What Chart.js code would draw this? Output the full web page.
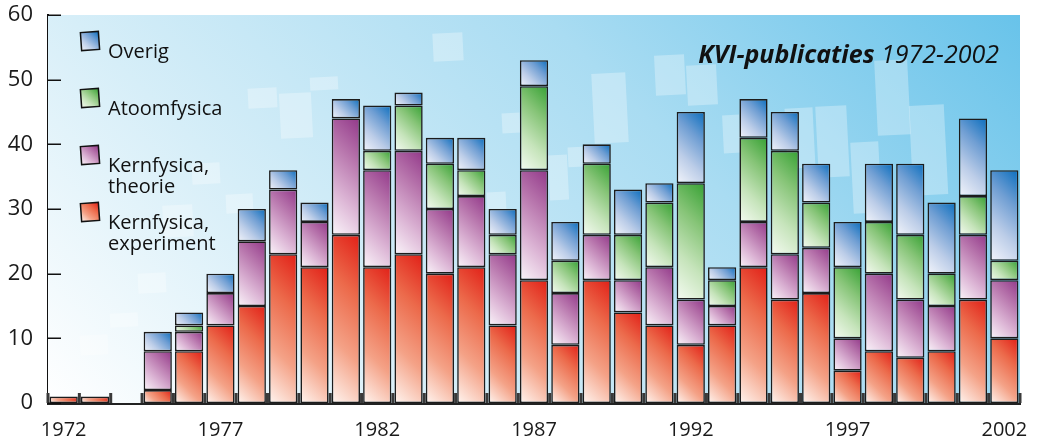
<!DOCTYPE html>
<html>
<head>
<meta charset="utf-8">
<script src="https://cdn.jsdelivr.net/npm/chart.js@4.4.1/dist/chart.umd.min.js"></script>
<style>
  html, body { margin: 0; padding: 0; background: #fff; }
  #wrap { width: 1038px; height: 441px; }
</style>
</head>
<body>
<div id="wrap"><canvas id="chart"></canvas></div>
<script>
// KVI-publicaties 1972-2002, gestapeld per jaar

const years = ['1972','1973','1974','1975','1976','1977','1978','1979','1980','1981',
  '1982','1983','1984','1985','1986','1987','1988','1989','1990','1991',
  '1992','1993','1994','1995','1996','1997','1998','1999','2000','2001','2002'];

const kernExp  = [1,1,0,2,8,12,15,23,21,26,21,23,20,21,12,19,9,19,14,12,9,12,21,16,17,5,8,7,8,16,10];
const kernTheo = [0,0,0,6,3,5,10,10,7,18,15,16,10,11,11,17,8,7,5,9,7,3,7,7,7,5,12,9,7,10,9];
const atoom    = [0,0,0,0,1,0,0,0,0,0,3,7,7,4,3,13,5,11,7,10,18,4,13,16,7,11,8,10,5,6,3];
const overig   = [0,0,0,3,2,3,5,3,3,3,7,2,4,5,4,4,6,3,7,3,11,2,6,6,6,7,9,11,11,12,14];

const yTicks = [0, 10, 20, 30, 40, 50, 60];
const labelEvery = 5;

const FONT = "'Open Sans', 'Noto Sans', sans-serif";

// kleurverloop per segment: licht linksonder -> verzadigd rechtsboven
const stopsExp   = ['#fff5f0', '#f4a287', '#ec6a4b', '#e11f17'];
const stopsTheo  = ['#fbf5fa', '#dcb5d5', '#b876ad', '#923889'];
const stopsAtoom = ['#f5fbf2', '#c6e4bb', '#86c477', '#36a133'];
const stopsOverig= ['#f3f5fb', '#bccde8', '#6f9ed3', '#0a6ebe'];

function fillGradient(g, stops) {
  stops.forEach((c, j) => g.addColorStop(j / (stops.length - 1), c));
  return g;
}

function segmentFill(stops) {
  return (ctx) => {
    const chart = ctx.chart;
    if (ctx.type !== 'data' || !chart.chartArea) return stops[stops.length - 1];
    const xs = chart.scales.x, ys = chart.scales.y;
    const i = ctx.dataIndex, d = ctx.datasetIndex;
    let base = 0;
    for (let k = 0; k < d; k++) base += chart.data.datasets[k].data[i] || 0;
    const top = base + (chart.data.datasets[d].data[i] || 0);
    const w = xs.width / chart.data.labels.length * 0.9;
    const left = xs.getPixelForValue(i) - w / 2;
    const bottom = ys.getPixelForValue(base);
    const h = bottom - ys.getPixelForValue(top);
    const L = (w + h) / 2;
    return fillGradient(chart.ctx.createLinearGradient(left, bottom, left + L, bottom - L), stops);
  };
}

// lichte "vensters" in de achtergrond
const decoRects = [
  [433,33,30,28],[310,77,28,13],[248,88,29,20],[280,93,32,45],[192,163,28,21],
  [226,194,27,19],[163,205,30,32],[138,273,28,20],[110,313,28,14],[80,335,28,20],
  [502,113,18,20],[549,155,19,45],[568,147,15,20],[593,73,34,70],[487,192,19,18],
  [655,55,30,40],[687,65,30,40],[723,115,17,38],[786,108,28,60],[817,106,31,71],
  [852,142,28,71],[876,60,33,75],[911,105,35,90]
];

const background = {
  id: 'background',
  beforeDatasetsDraw(chart) {
    const { ctx, chartArea: a } = chart;
    ctx.save();
    const L = (a.width + a.height) / 2;
    const g = ctx.createLinearGradient(a.left, a.bottom, a.left + L, a.bottom - L);
    g.addColorStop(0, '#ffffff');
    g.addColorStop(0.3, '#d6eef8');
    g.addColorStop(0.65, '#a9dcf2');
    g.addColorStop(1, '#68c3ea');
    ctx.fillStyle = g;
    ctx.fillRect(a.left, a.top, a.width, a.height);
    ctx.fillStyle = 'rgba(255,255,255,0.3)';
    decoRects.forEach(([x, y, w, h]) => {
      ctx.save();
      ctx.translate(x + w / 2, y + h / 2);
      ctx.rotate(-0.05);
      ctx.fillRect(-w / 2, -h / 2, w, h);
      ctx.restore();
    });
    // streepjes tussen de staven onderaan
    const xs = chart.scales.x;
    const step = xs.width / chart.data.labels.length;
    ctx.fillStyle = '#3a3a3a';
    for (let i = 0; i <= chart.data.labels.length; i++) {
      const x = xs.getPixelForValue(i) - step / 2;
      ctx.fillRect(x - 1.5, a.bottom - 10, 3, 10);
    }
    ctx.restore();
  },
  afterDatasetsDraw(chart) {
    const { ctx, chartArea: a } = chart;
    const ys = chart.scales.y;
    ctx.save();
    ctx.strokeStyle = '#111';
    ctx.lineWidth = 1.5;
    ys.ticks.forEach(t => {
      const y = Math.round(ys.getPixelForValue(t.value)) + 0.25;
      ctx.beginPath();
      ctx.moveTo(a.left, y);
      ctx.lineTo(a.left + 13, y);
      ctx.stroke();
    });
    ctx.restore();
  }
};

const legendBlock = {
  id: 'legendBlock',
  afterDraw(chart) {
    const { ctx, chartArea: a } = chart;
    const sets = chart.data.datasets.slice().reverse();
    ctx.save();
    ctx.font = '20px ' + FONT;
    ctx.fillStyle = '#111';
    ctx.textAlign = 'left';
    ctx.textBaseline = 'alphabetic';
    sets.forEach((ds, n) => {
      const bx = a.left + 33, by = a.top + 17 + n * 57;
      ctx.save();
      ctx.translate(bx + 9, by + 9);
      ctx.rotate(-0.07);
      const g = ctx.createLinearGradient(-9, 9, 9, -9);
      fillGradient(g, ds.stops);
      ctx.fillStyle = g;
      ctx.fillRect(-9, -9, 18, 18);
      ctx.strokeStyle = '#111';
      ctx.lineWidth = 1.5;
      ctx.strokeRect(-9, -9, 18, 18);
      ctx.restore();
      const lines = ds.label.split(', ');
      lines.forEach((s, j) => {
        const txt = j < lines.length - 1 ? s + ',' : s;
        ctx.fillText(txt, bx + 27, by + 26 + j * 21);
      });
    });
    ctx.restore();
  }
};

const titleBlock = {
  id: 'titleBlock',
  afterDraw(chart) {
    const { ctx } = chart;
    const right = chart.chartArea.right - 21, base = 63;
    ctx.save();
    ctx.fillStyle = '#111';
    ctx.textBaseline = 'alphabetic';
    ctx.textAlign = 'left';
    const boldFont = 'italic bold 25px ' + FONT;
    const itFont = 'italic 25px ' + FONT;
    ctx.font = itFont;
    const wIt = ctx.measureText(' 1972-2002').width;
    ctx.font = boldFont;
    const wBold = ctx.measureText('KVI-publicaties').width;
    const x0 = right - wIt - wBold;
    ctx.fillText('KVI-publicaties', x0, base);
    ctx.font = itFont;
    ctx.fillText(' 1972-2002', x0 + wBold, base);
    ctx.restore();
  }
};

const common = { borderColor: '#1c1c1c', borderWidth: 1.6, borderSkipped: false };

function noPad(s) {
  s.paddingTop = 0; s.paddingBottom = 0; s.paddingLeft = 0; s.paddingRight = 0;
}

new Chart(document.getElementById('chart'), {
  type: 'bar',
  data: {
    labels: years,
    datasets: [
      { label: 'Kernfysica, experiment', data: kernExp, stops: stopsExp, backgroundColor: segmentFill(stopsExp), ...common },
      { label: 'Kernfysica, theorie', data: kernTheo, stops: stopsTheo, backgroundColor: segmentFill(stopsTheo), ...common },
      { label: 'Atoomfysica', data: atoom, stops: stopsAtoom, backgroundColor: segmentFill(stopsAtoom), ...common },
      { label: 'Overig', data: overig, stops: stopsOverig, backgroundColor: segmentFill(stopsOverig), ...common }
    ]
  },
  options: {
    responsive: true,
    maintainAspectRatio: false,
    animation: false,
    events: [],
    layout: { autoPadding: false, padding: { top: 15, right: 18, left: 0, bottom: 0 } },
    datasets: { bar: { barPercentage: 0.9, categoryPercentage: 1 } },
    plugins: { legend: { display: false }, tooltip: { enabled: false } },
    scales: {
      x: {
        stacked: true,
        offset: true,
        grid: { display: false, drawTicks: false },
        border: { display: true, color: '#222', width: 3 },
        afterFit: s => { s.height = 38; noPad(s); },
        ticks: {
          autoSkip: false, maxRotation: 0, padding: 15,
          color: '#1a1a1a', font: { family: FONT, size: 20 },
          callback: function (v, i) { return i % labelEvery === 0 ? this.getLabelForValue(v) : ''; }
        }
      },
      y: {
        stacked: true,
        min: yTicks[0], max: yTicks[yTicks.length - 1],
        grid: { display: false, drawTicks: false },
        border: { display: true, color: '#111', width: 2 },
        afterFit: s => { s.width = 48; noPad(s); },
        afterBuildTicks: s => { s.ticks = yTicks.map(v => ({ value: v })); },
        ticks: { padding: 15, color: '#1a1a1a', font: { family: FONT, size: 22 } }
      }
    }
  },
  plugins: [background, legendBlock, titleBlock]
});
</script>
</body>
</html>
